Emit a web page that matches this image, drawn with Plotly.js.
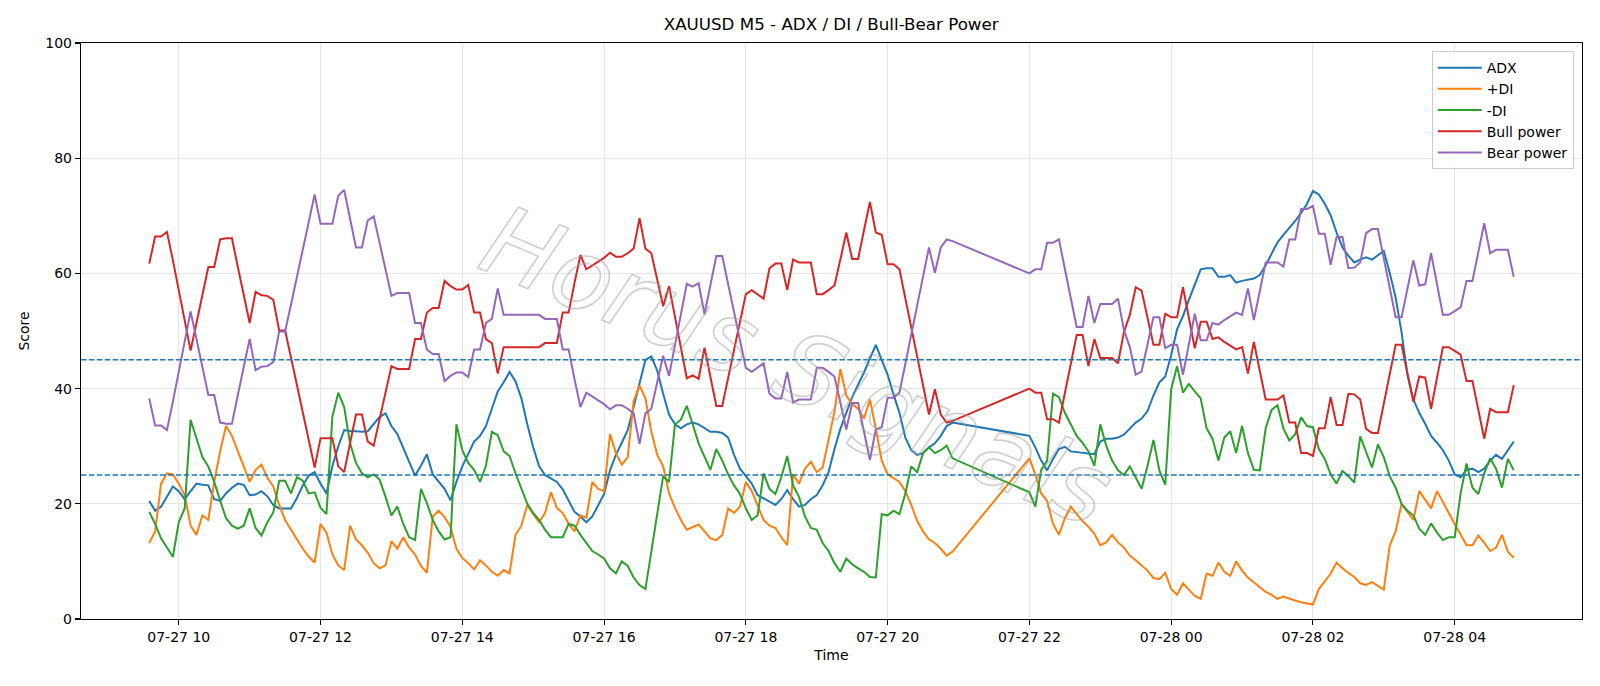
<!DOCTYPE html>
<html>
<head>
<meta charset="utf-8">
<script src="https://cdn.plot.ly/plotly-3.0.1.min.js"></script>
<style>
html,body{margin:0;padding:0;background:#fff;}
#chart{width:1600px;height:686px;}
</style>
</head>
<body>
<div id="chart"></div>
<script>
// ---- time axis: 5-minute bars, with the daily market break (21:00-21:55 missing) ----
const sessionStarts = ['2025-07-27T09:35:00Z', '2025-07-27T22:00:00Z'];
const sessionCounts = [137, 83];
const stepMinutes = 5;

// ---- series values ----
const adx = [20.5,18.8,19.5,21.2,23.0,22.2,20.8,22.2,23.5,23.3,23.2,20.8,20.5,21.8,22.8,23.5,23.3,21.5,21.6,22.2,21.3,19.8,19.2,19.2,19.2,21.0,23.2,24.9,25.5,23.5,
21.8,26.5,30.0,32.8,32.6,32.6,32.5,32.6,33.8,35.1,35.7,33.5,32.1,29.8,27.3,24.9,26.6,28.6,25.1,23.8,22.6,20.6,23.8,26.5,28.8,30.8,31.8,33.5,36.5,39.5,
41.1,42.9,41.3,38.3,33.8,29.8,26.5,25.0,24.4,23.8,22.5,20.5,18.6,17.8,16.8,17.8,19.8,21.7,25.8,28.5,30.6,32.8,36.8,40.8,45.0,45.6,43.1,39.1,35.5,33.8,
33.1,33.8,34.1,33.8,33.1,32.5,32.5,32.3,31.5,28.5,26.1,24.8,23.5,21.5,21.0,20.4,19.8,20.8,22.4,20.8,19.5,19.8,20.8,21.5,23.2,25.5,29.5,33.0,35.8,38.5,
40.7,42.8,45.2,47.6,45.0,42.4,39.0,35.8,31.5,29.3,28.5,28.8,29.8,30.5,31.8,33.5,34.1,
31.8,29.8,27.5,25.8,27.8,29.5,29.9,29.1,29.0,28.9,28.8,28.6,30.8,31.3,31.3,31.5,32.0,33.1,34.1,34.8,36.1,38.8,41.1,42.1,45.8,50.3,52.6,55.4,58.1,60.7,
60.9,60.9,59.4,59.4,59.7,58.4,58.7,58.9,59.1,59.7,61.4,63.4,65.4,66.7,67.9,69.1,70.5,72.1,74.3,73.7,72.1,70.1,67.1,64.5,63.1,61.9,62.4,62.8,62.4,63.2,
63.9,60.1,55.8,49.8,42.4,38.1,35.8,33.9,31.8,30.6,29.3,27.5,25.1,24.6,25.9,26.1,25.5,26.1,27.5,28.5,27.8,29.3,30.8];

const plusDI = [13.2,15.2,23.5,25.3,25.1,23.5,21.5,16.2,14.6,18.0,17.2,23.8,29.1,33.5,31.8,29.1,26.5,23.8,25.9,26.8,24.5,23.0,19.8,17.2,15.5,13.8,12.2,10.8,9.8,16.5,
15.0,11.2,9.3,8.5,16.2,13.8,12.8,11.5,9.7,8.8,9.3,13.5,12.2,14.2,12.4,11.2,9.2,8.0,17.8,18.8,17.7,16.0,12.2,10.6,9.7,8.6,10.2,9.3,8.2,7.5,
8.5,7.9,14.6,16.2,19.8,18.2,16.8,18.4,22.0,19.3,18.4,16.5,15.2,18.0,17.6,23.8,22.6,22.2,32.1,28.8,26.8,28.1,37.8,40.5,38.3,32.5,28.5,26.5,21.8,19.3,
17.2,15.5,16.0,16.4,15.2,14.0,13.7,14.6,19.2,18.4,19.5,23.8,22.2,19.8,17.2,16.2,15.8,14.2,12.8,25.1,23.5,26.1,27.3,25.5,26.3,31.1,36.0,43.4,38.8,37.3,
36.5,34.8,38.1,33.1,27.5,25.1,24.4,23.8,22.2,19.8,17.0,15.2,13.8,13.2,12.2,11.0,11.7,
27.9,25.1,21.8,20.5,16.5,14.6,17.5,19.5,18.2,17.0,16.0,14.8,12.8,13.3,14.6,13.3,12.4,11.0,10.2,9.3,8.4,7.1,6.9,8.0,5.2,4.2,6.2,5.1,4.0,3.5,
7.9,7.5,9.8,8.2,7.5,10.0,8.4,7.2,6.4,5.5,4.7,4.2,3.5,3.9,3.5,3.2,2.9,2.7,2.5,5.2,6.5,7.9,9.8,8.8,8.0,7.3,6.2,5.9,6.4,5.7,
5.1,12.8,15.2,20.0,18.6,17.2,22.2,20.6,19.2,22.2,20.2,18.4,16.5,14.6,12.8,12.8,14.5,13.2,11.8,12.4,14.6,11.7,10.6];

const minusDI = [18.6,16.5,14.0,12.4,10.8,16.8,19.2,34.6,31.5,28.1,26.5,23.8,20.6,17.5,16.2,15.7,16.2,19.2,15.8,14.5,16.8,18.5,24.0,24.0,21.8,24.6,24.0,21.8,22.0,19.3,
18.2,35.1,39.3,36.8,30.5,27.1,25.3,24.6,25.1,24.2,21.2,18.0,19.5,16.5,14.2,13.7,22.6,20.1,17.2,15.2,13.8,14.2,33.8,29.3,27.1,25.9,23.8,26.6,32.5,31.9,
29.1,28.3,25.3,22.5,20.0,18.4,17.2,15.5,14.2,14.2,14.2,16.5,16.2,14.6,13.2,11.8,11.2,10.5,8.8,7.9,10.0,9.2,7.2,5.9,5.2,11.7,18.3,24.8,23.8,33.8,
34.6,37.0,33.8,30.5,28.2,25.9,29.5,27.5,25.1,23.2,21.7,19.2,17.2,18.0,25.3,22.6,21.7,24.6,28.3,23.2,21.2,17.8,15.8,15.5,13.2,11.8,9.7,8.2,10.5,9.5,
8.8,8.2,7.3,7.2,18.2,18.0,18.8,18.2,21.8,26.5,25.5,28.8,29.8,28.8,29.3,30.1,27.9,
22.0,19.5,25.9,27.5,39.1,38.5,35.8,33.8,31.8,30.6,29.1,26.6,33.8,30.1,27.5,25.8,25.0,26.5,24.5,22.6,26.6,31.1,25.8,23.3,39.9,43.9,39.3,40.8,39.5,38.3,
33.1,31.3,27.5,31.5,32.6,28.8,33.5,28.8,25.9,25.8,33.1,36.3,37.1,33.1,31.0,32.1,35.0,33.5,33.3,29.5,27.8,25.1,23.5,25.7,24.8,23.7,31.7,29.0,26.3,30.3,
28.1,24.8,22.8,20.0,18.8,18.0,15.7,14.6,16.6,15.0,13.7,14.2,14.2,21.8,27.0,22.8,21.7,25.3,27.9,26.1,22.8,27.8,25.8];

const bullPower = [61.7,66.4,66.4,67.2,62.3,57.0,51.8,46.6,51.4,56.4,61.1,61.1,65.9,66.1,66.1,61.1,56.1,51.4,56.8,56.2,56.1,55.4,50.1,50.1,45.4,40.6,35.9,31.1,26.3,31.4,
31.4,31.4,26.5,25.5,30.5,35.5,35.5,30.8,30.1,34.8,39.5,43.9,43.4,43.4,43.4,48.6,48.6,53.2,54.0,54.0,58.7,57.8,57.2,57.2,58.0,53.2,53.2,48.6,47.9,42.6,
47.2,47.2,47.2,47.2,47.2,47.2,47.2,47.9,47.9,47.9,53.2,53.2,58.4,63.2,60.7,61.4,62.1,62.7,63.6,62.9,62.9,63.5,64.3,69.6,64.3,63.5,58.9,54.3,57.8,52.4,
47.1,41.8,42.3,41.7,47.1,42.1,37.0,37.0,41.7,46.7,51.6,56.4,57.1,56.4,55.6,60.9,61.7,61.7,57.1,62.4,61.9,61.9,61.9,56.4,56.4,57.1,57.9,62.4,67.1,62.5,
62.5,67.5,72.4,67.1,66.7,61.6,61.6,60.7,55.7,50.6,45.5,40.5,35.5,39.9,35.5,34.1,34.4,
40.0,39.3,39.3,34.7,34.7,34.1,39.2,44.2,49.3,49.3,43.9,48.6,45.3,45.3,45.3,44.4,49.8,52.8,57.6,57.0,52.3,47.6,47.6,53.0,52.4,52.4,57.6,52.3,47.0,51.6,
51.6,48.6,48.9,48.1,47.4,46.8,47.2,42.6,48.1,43.1,38.1,38.1,38.1,38.8,34.1,34.1,28.8,28.8,28.3,33.1,33.1,38.5,33.7,33.7,39.1,39.0,38.1,33.0,32.3,32.3,
37.5,42.6,47.6,47.6,42.6,37.7,42.1,41.9,36.5,41.8,47.2,47.2,46.6,45.9,41.3,41.3,36.3,31.3,36.5,35.9,35.9,35.9,40.6];

const bearPower = [38.3,33.6,33.6,32.8,37.7,43.0,48.2,53.4,48.6,43.6,38.9,38.9,34.1,33.9,33.9,38.9,43.9,48.6,43.2,43.8,43.9,44.6,49.9,49.9,54.6,59.4,64.1,68.9,73.7,68.6,
68.6,68.6,73.5,74.5,69.5,64.5,64.5,69.2,69.9,65.2,60.5,56.1,56.6,56.6,56.6,51.4,51.4,46.8,46.0,46.0,41.3,42.2,42.8,42.8,42.0,46.8,46.8,51.4,52.1,57.4,
52.8,52.8,52.8,52.8,52.8,52.8,52.8,52.1,52.1,52.1,46.8,46.8,41.6,36.8,39.3,38.6,37.9,37.3,36.4,37.1,37.1,36.5,35.7,30.4,35.7,36.5,41.1,45.7,42.2,47.6,
52.9,58.2,57.7,58.3,52.9,57.9,63.0,63.0,58.3,53.3,48.4,43.6,42.9,43.6,44.4,39.1,38.3,38.3,42.9,37.6,38.1,38.1,38.1,43.6,43.6,42.9,42.1,37.6,32.9,37.5,
37.5,32.5,27.6,32.9,33.3,38.4,38.4,39.3,44.3,49.4,54.5,59.5,64.5,60.1,64.5,65.9,65.6,
60.0,60.7,60.7,65.3,65.3,65.9,60.8,55.8,50.7,50.7,56.1,51.4,54.7,54.7,54.7,55.6,50.2,47.2,42.4,43.0,47.7,52.4,52.4,47.0,47.6,47.6,42.4,47.7,53.0,48.4,
48.4,51.4,51.1,51.9,52.6,53.2,52.8,57.4,51.9,56.9,61.9,61.9,61.9,61.2,65.9,65.9,71.2,71.2,71.7,66.9,66.9,61.5,66.3,66.3,60.9,61.0,61.9,67.0,67.7,67.7,
62.5,57.4,52.4,52.4,57.4,62.3,57.9,58.1,63.5,58.2,52.8,52.8,53.4,54.1,58.7,58.7,63.7,68.7,63.5,64.1,64.1,64.1,59.4];

const seriesNames = ['ADX', '+DI', '-DI', 'Bull power', 'Bear power'];
const seriesColors = ['#1f77b4', '#ff7f0e', '#2ca02c', '#d62728', '#9467bd'];
const thresholds = [45, 25];
const titleText = 'XAUUSD M5 - ADX / DI / Bull-Bear Power';
const watermarkText = 'Horus Signals';

// ---- build timestamps ----
function pad(n){return (n<10?'0':'')+n;}
function fmt(d){
  return d.getUTCFullYear()+'-'+pad(d.getUTCMonth()+1)+'-'+pad(d.getUTCDate())+' '+pad(d.getUTCHours())+':'+pad(d.getUTCMinutes())+':'+pad(d.getUTCSeconds());
}
const times = [];
sessionStarts.forEach(function(s, i){
  const t0 = Date.parse(s);
  for (let k = 0; k < sessionCounts[i]; k++) times.push(fmt(new Date(t0 + k*stepMinutes*60000)));
});

// x range with 5% margins like matplotlib
const tFirst = Date.parse(times[0].replace(' ','T')+'Z');
const tLast = Date.parse(times[times.length-1].replace(' ','T')+'Z');
const marg = (tLast - tFirst) * 0.05;
const xr = [fmt(new Date(tFirst - marg)), fmt(new Date(tLast + marg))];

const values = [adx, plusDI, minusDI, bullPower, bearPower];
const traces = values.map(function(v, i){
  return {x: times, y: v, type: 'scatter', mode: 'lines', name: seriesNames[i],
          line: {color: seriesColors[i], width: 2}};
});

const FONT = 'DejaVu Sans, sans-serif';
const shapes = thresholds.map(function(t){
  return {type:'line', xref:'paper', x0:0, x1:1, yref:'y', y0:t, y1:t,
          line:{color:'#1f77b4', width:1.5, dash:'5.5px,2.4px'}, layer:'above'};
});

const layout = {
  width: 1600, height: 686,
  paper_bgcolor: '#ffffff', plot_bgcolor: '#ffffff',
  margin: {l: 81, r: 18, t: 43, b: 67},
  font: {family: FONT, size: 14, color: '#000000'},
  title: {text: titleText, font: {family: FONT, size: 16.7, color: '#000'},
          x: 0.5195, xanchor: 'center', y: 1 - 24/686, yanchor: 'middle', yref: 'container'},
  xaxis: {
    type: 'date', range: xr,
    tick0: '2025-07-27 10:00:00', dtick: 7200000, tickformat: '%m-%d %H',
    showgrid: true, gridcolor: '#e6e6e6', gridwidth: 1,
    showline: true, linecolor: '#000', linewidth: 1.2, mirror: true,
    ticks: 'outside', ticklen: 5, tickwidth: 1.1, tickcolor: '#000',
    tickfont: {family: FONT, size: 14, color: '#000'},
    title: {text: 'Time', font: {family: FONT, size: 14, color: '#000'}, standoff: 6},
    zeroline: false, automargin: false
  },
  yaxis: {
    range: [0, 100], tick0: 0, dtick: 20,
    showgrid: true, gridcolor: '#e6e6e6', gridwidth: 1,
    showline: true, linecolor: '#000', linewidth: 1.2, mirror: true,
    ticks: 'outside', ticklen: 5, tickwidth: 1.1, tickcolor: '#000',
    tickfont: {family: FONT, size: 14, color: '#000'},
    title: {text: 'Score', font: {family: FONT, size: 14, color: '#000'}, standoff: 12},
    zeroline: false, automargin: false
  },
  legend: {
    x: 0.9945, xanchor: 'right', y: 0.986, yanchor: 'top',
    bgcolor: 'rgba(255,255,255,0.8)', bordercolor: '#cccccc', borderwidth: 1,
    font: {family: FONT, size: 14, color: '#000'}, itemwidth: 44, tracegroupgap: 0
  },
  shapes: shapes,
  annotations: [{
    text: watermarkText, xref: 'paper', yref: 'paper', x: 0.477, y: 0.44,
    showarrow: false, textangle: 23,
    font: {family: FONT, size: 98, color: 'rgba(255,255,255,0)', style: 'italic'}
  }],
  showlegend: true
};

Plotly.newPlot('chart', traces, layout, {displayModeBar: false, staticPlot: true}).then(function(){
  document.querySelectorAll('.annotation-text').forEach(function(el){
    el.style.fill = 'rgba(255,255,255,0)';
    el.style.stroke = 'rgba(160,160,160,0.5)';
    el.style.strokeWidth = '1.6px';
  });
});
</script>
</body>
</html>
